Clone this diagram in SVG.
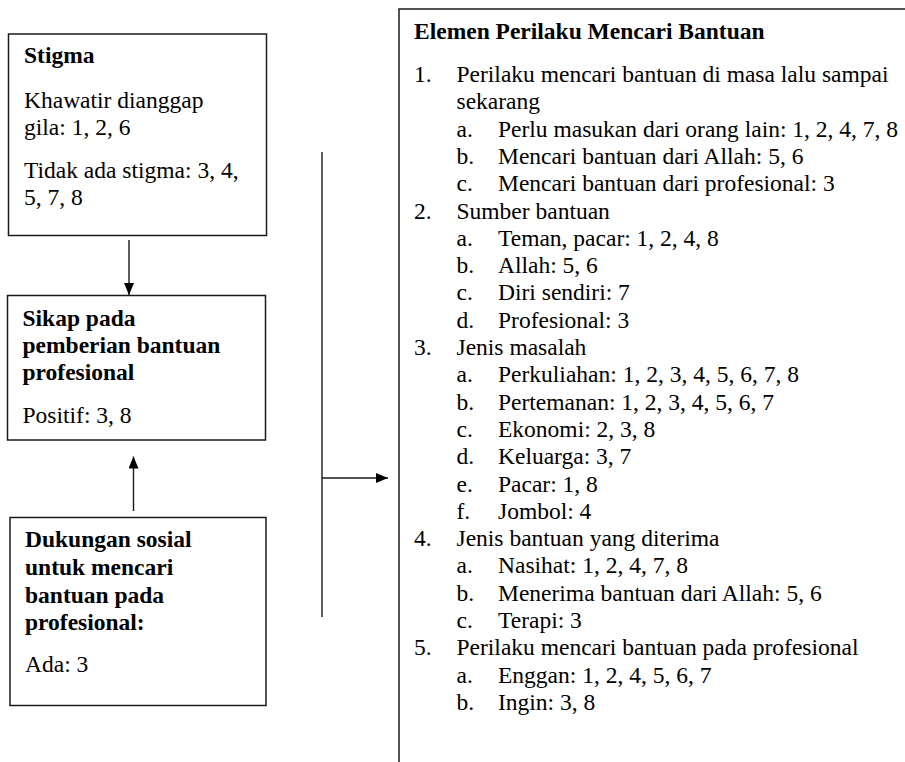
<svg xmlns="http://www.w3.org/2000/svg" width="905" height="762" viewBox="0 0 905 762">
  <style>
    .box { fill: #ffffff; stroke: #1a1a1a; stroke-width: 1.5; }
    .t { font-family: "Liberation Serif", "Times New Roman", serif; font-size: 23.5px; fill: #000000; }
    .b { font-weight: bold; }
    .conn { stroke: #1a1a1a; stroke-width: 1.4; fill: none; }
  </style>
  <defs>
    <marker id="arrow" markerUnits="userSpaceOnUse" markerWidth="12" markerHeight="10" viewBox="0 0 12 10" refX="12" refY="5" orient="auto">
      <path d="M0,0 L12,5 L0,10 z" fill="#000000"/>
    </marker>
  </defs>
  <rect width="905" height="762" fill="#ffffff"/>

  <!-- Stigma -->
  <g id="stigma">
    <rect class="box" x="8.5" y="34" width="258" height="201.5"/>
    <text class="t b" x="24" y="63">Stigma</text>
    <text class="t" x="24" y="108">Khawatir dianggap</text>
    <text class="t" x="24" y="135">gila: 1, 2, 6</text>
    <text class="t" x="24" y="178">Tidak ada stigma: 3, 4,</text>
    <text class="t" x="24" y="205">5, 7, 8</text>
  </g>

  <!-- Sikap pada pemberian bantuan profesional -->
  <g id="sikap">
    <rect class="box" x="7.5" y="295.5" width="258" height="144.5"/>
    <text class="t b" x="22.5" y="326">Sikap pada</text>
    <text class="t b" x="22.5" y="353">pemberian bantuan</text>
    <text class="t b" x="22.5" y="380">profesional</text>
    <text class="t" x="22.5" y="423">Positif: 3, 8</text>
  </g>

  <!-- Dukungan sosial -->
  <g id="dukungan">
    <rect class="box" x="10" y="517.5" width="256" height="188"/>
    <text class="t b" x="25" y="547">Dukungan sosial</text>
    <text class="t b" x="25" y="575">untuk mencari</text>
    <text class="t b" x="25" y="603">bantuan pada</text>
    <text class="t b" x="25" y="630">profesional:</text>
    <text class="t" x="25" y="672">Ada: 3</text>
  </g>

  <!-- Elemen perilaku mencari bantuan -->
  <g id="elemen">
    <rect class="box" x="399" y="9" width="520" height="770"/>
    <text class="t b" x="414" y="39">Elemen Perilaku Mencari Bantuan</text>
    <g class="t">
      <text x="414" y="82">1.</text><text x="456.5" y="82">Perilaku mencari bantuan di masa lalu sampai</text>
      <text x="456.5" y="109.3">sekarang</text>
      <text x="456.5" y="136.6">a.</text><text x="498" y="136.6">Perlu masukan dari orang lain: 1, 2, 4, 7, 8</text>
      <text x="456.5" y="163.9">b.</text><text x="498" y="163.9">Mencari bantuan dari Allah: 5, 6</text>
      <text x="456.5" y="191.2">c.</text><text x="498" y="191.2">Mencari bantuan dari profesional: 3</text>
      <text x="414" y="218.5">2.</text><text x="456.5" y="218.5">Sumber bantuan</text>
      <text x="456.5" y="245.8">a.</text><text x="498" y="245.8">Teman, pacar: 1, 2, 4, 8</text>
      <text x="456.5" y="273.1">b.</text><text x="498" y="273.1">Allah: 5, 6</text>
      <text x="456.5" y="300.4">c.</text><text x="498" y="300.4">Diri sendiri: 7</text>
      <text x="456.5" y="327.7">d.</text><text x="498" y="327.7">Profesional: 3</text>
      <text x="414" y="355">3.</text><text x="456.5" y="355">Jenis masalah</text>
      <text x="456.5" y="382.3">a.</text><text x="498" y="382.3">Perkuliahan: 1, 2, 3, 4, 5, 6, 7, 8</text>
      <text x="456.5" y="409.6">b.</text><text x="498" y="409.6">Pertemanan: 1, 2, 3, 4, 5, 6, 7</text>
      <text x="456.5" y="436.9">c.</text><text x="498" y="436.9">Ekonomi: 2, 3, 8</text>
      <text x="456.5" y="464.2">d.</text><text x="498" y="464.2">Keluarga: 3, 7</text>
      <text x="456.5" y="491.5">e.</text><text x="498" y="491.5">Pacar: 1, 8</text>
      <text x="456.5" y="518.8">f.</text><text x="498" y="518.8">Jombol: 4</text>
      <text x="414" y="546.1">4.</text><text x="456.5" y="546.1">Jenis bantuan yang diterima</text>
      <text x="456.5" y="573.4">a.</text><text x="498" y="573.4">Nasihat: 1, 2, 4, 7, 8</text>
      <text x="456.5" y="600.7">b.</text><text x="498" y="600.7">Menerima bantuan dari Allah: 5, 6</text>
      <text x="456.5" y="628">c.</text><text x="498" y="628">Terapi: 3</text>
      <text x="414" y="655.3">5.</text><text x="456.5" y="655.3">Perilaku mencari bantuan pada profesional</text>
      <text x="456.5" y="682.6">a.</text><text x="498" y="682.6">Enggan: 1, 2, 4, 5, 6, 7</text>
      <text x="456.5" y="709.9">b.</text><text x="498" y="709.9">Ingin: 3, 8</text>
    </g>
  </g>

  <!-- Connectors -->
  <g id="connectors">
    <line class="conn" x1="129" y1="240" x2="129" y2="295" marker-end="url(#arrow)"/>
    <line class="conn" x1="133.5" y1="511" x2="133.5" y2="456.5" marker-end="url(#arrow)"/>
    <line class="conn" x1="322" y1="152" x2="322" y2="617"/>
    <line class="conn" x1="322" y1="478" x2="388" y2="478" marker-end="url(#arrow)"/>
  </g>
</svg>
